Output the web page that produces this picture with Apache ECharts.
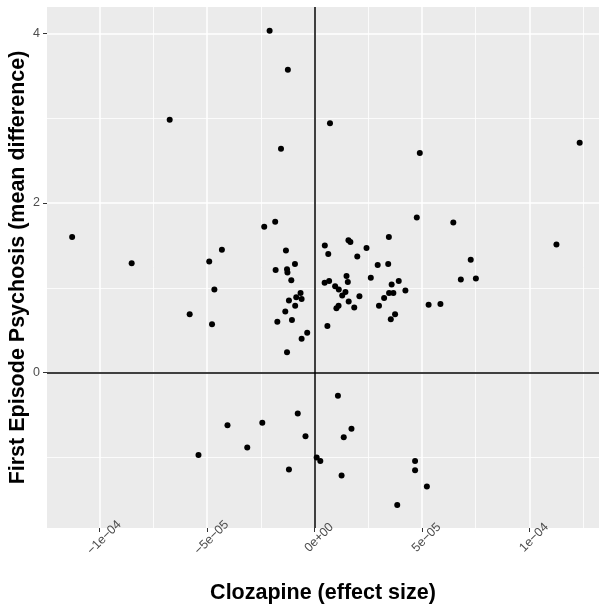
<!DOCTYPE html>
<html>
<head>
<meta charset="utf-8">
<script src="https://cdn.jsdelivr.net/npm/echarts@6/dist/echarts.min.js"></script>
<style>
  html, body { margin: 0; padding: 0; background: #fff; }
  #scatter-chart { width: 599px; height: 604px; }
</style>
</head>
<body>
<div id="scatter-chart"></div>
<script>
// clozapine effect size (x) and first episode psychosis mean difference (y), one entry per point
const clozapine = [
  -11.28e-5, -8.51e-5, -6.74e-5, -2.09e-5, -1.24e-5, -1.56e-5, -2.34e-5, -1.83e-5, -4.31e-5, -4.90e-5,
  -1.33e-5, -1.81e-5, -1.28e-5, -1.26e-5, -0.91e-5, -1.08e-5, -4.66e-5, -0.65e-5, -0.85e-5, -0.60e-5,
  -1.19e-5, -0.90e-5, -1.36e-5, -1.73e-5, -1.05e-5, -0.34e-5, -0.60e-5, -1.28e-5, -5.81e-5, -4.77e-5,
  0.72e-5, 4.90e-5, 12.34e-5, 4.76e-5, 6.46e-5, 11.26e-5, 3.46e-5, 0.48e-5, 0.64e-5, 1.58e-5,
  1.67e-5, 2.42e-5, 1.99e-5, 2.94e-5, 3.43e-5, 7.27e-5, 6.81e-5, 7.51e-5, 2.62e-5, 1.49e-5,
  1.55e-5, 0.47e-5, 0.68e-5, 0.96e-5, 1.13e-5, 1.44e-5, 1.29e-5, 3.59e-5, 3.92e-5, 4.23e-5,
  3.47e-5, 3.67e-5, 2.09e-5, 3.24e-5, 1.59e-5, 1.85e-5, 1.02e-5, 1.12e-5, 3.00e-5, 3.55e-5,
  3.75e-5, 5.31e-5, 5.86e-5, 0.60e-5,
  -4.05e-5, -2.43e-5, -3.13e-5, -5.40e-5, -1.19e-5, -0.78e-5, 1.09e-5, 1.72e-5, 1.36e-5, -0.42e-5,
  0.10e-5, 0.27e-5, 1.26e-5, 4.68e-5, 4.68e-5, 5.23e-5, 3.85e-5
];
const psychosis = [
  1.60, 1.29, 2.98, 4.03, 3.57, 2.64, 1.72, 1.78, 1.45, 1.31,
  1.44, 1.21, 1.22, 1.18, 1.28, 1.09, 0.98, 0.94, 0.89, 0.87,
  0.85, 0.79, 0.72, 0.60, 0.62, 0.47, 0.40, 0.24, 0.69, 0.57,
  2.94, 2.59, 2.71, 1.83, 1.77, 1.51, 1.60, 1.50, 1.40, 1.56,
  1.54, 1.47, 1.37, 1.27, 1.28, 1.33, 1.10, 1.11, 1.12, 1.14,
  1.07, 1.06, 1.08, 1.02, 0.98, 0.95, 0.91, 1.04, 1.08, 0.97,
  0.94, 0.94, 0.90, 0.88, 0.84, 0.77, 0.76, 0.79, 0.79, 0.63,
  0.69, 0.80, 0.81, 0.55,
  -0.62, -0.59, -0.88, -0.97, -1.14, -0.48, -0.27, -0.66, -0.76, -0.75,
  -1.00, -1.04, -1.21, -1.04, -1.15, -1.34, -1.56
];

const xTicks = [-1e-4, -5e-5, 0, 5e-5, 1e-4];
const xTickLabels = ['\u22121e\u221204', '\u22125e\u221205', '0e+00', '5e\u221205', '1e\u221204'];
const xMinorTicks = [-7.5e-5, -2.5e-5, 2.5e-5, 7.5e-5, 1.25e-4];
const yTicks = [0, 2, 4];
const yTickLabels = ['0', '2', '4'];
const yMinorTicks = [-1, 1, 3];

const xRange = [-1.245e-4, 1.324e-4];
const yRange = [-1.83, 4.31];

const font = 'Liberation Sans, Arial, sans-serif';

const labelFor = (ticks, labels) => (v) => {
  const i = ticks.findIndex(t => Math.abs(t - v) < 1e-9);
  return i >= 0 ? labels[i] : '';
};

const chart = echarts.init(document.getElementById('scatter-chart'));

const option = {
  animation: false,
  backgroundColor: '#fff',
  grid: {
    left: 47, right: 0, top: 7, bottom: 76,
    outerBoundsMode: 'none',
    containLabel: false,
    show: true,
    backgroundColor: '#EBEBEB',
    borderWidth: 0
  },
  xAxis: [
    {
      type: 'value',
      min: xRange[0], max: xRange[1],
      name: 'Clozapine (effect size)',
      nameLocation: 'middle',
      nameGap: 54,
      nameTextStyle: { fontFamily: font, fontWeight: 'bold', fontSize: 21.5, color: '#000' },
      axisLine: { show: false, onZero: false },
      axisTick: { show: true, length: 4, customValues: xTicks, lineStyle: { color: '#333' } },
      axisLabel: {
        customValues: xTicks,
        rotate: 45,
        align: 'center',
        verticalAlign: 'top',
        margin: 5,
        fontFamily: font, fontSize: 12.5, color: '#4D4D4D',
        formatter: labelFor(xTicks, xTickLabels)
      },
      splitLine: { show: true, lineStyle: { color: '#fff', width: 1.5 } }
    },
    {
      // minor grid lines only
      type: 'value',
      min: xRange[0], max: xRange[1],
      position: 'bottom',
      axisLine: { show: false, onZero: false },
      axisTick: { show: false, customValues: xMinorTicks },
      axisLabel: { show: false, customValues: xMinorTicks },
      splitLine: { show: true, lineStyle: { color: '#fff', width: 0.8 } }
    }
  ],
  yAxis: [
    {
      type: 'value',
      min: yRange[0], max: yRange[1],
      name: 'First Episode Psychosis (mean difference)',
      nameLocation: 'middle',
      nameGap: 18,
      nameMoveOverlap: false,
      nameTextStyle: { fontFamily: font, fontWeight: 'bold', fontSize: 21.5, color: '#000' },
      axisLine: { show: false, onZero: false },
      axisTick: { show: true, length: 4, customValues: yTicks, lineStyle: { color: '#333' } },
      axisLabel: {
        customValues: yTicks,
        margin: 7,
        fontFamily: font, fontSize: 12.5, color: '#4D4D4D',
        formatter: labelFor(yTicks, yTickLabels)
      },
      splitLine: { show: true, lineStyle: { color: '#fff', width: 1.5 } }
    },
    {
      type: 'value',
      min: yRange[0], max: yRange[1],
      position: 'left',
      axisLine: { show: false, onZero: false },
      axisTick: { show: false, customValues: yMinorTicks },
      axisLabel: { show: false, customValues: yMinorTicks },
      splitLine: { show: true, lineStyle: { color: '#fff', width: 0.8 } }
    }
  ],
  series: [
    {
      type: 'scatter',
      xAxisIndex: 0,
      yAxisIndex: 0,
      symbolSize: 6,
      itemStyle: { color: '#000', opacity: 1 },
      data: clozapine.map((x, i) => [x, psychosis[i]]),
      markLine: {
        silent: true,
        symbol: 'none',
        label: { show: false },
        lineStyle: { color: '#000', width: 1.5, type: 'solid' },
        data: [{ xAxis: 0 }, { yAxis: 0 }]
      },
      z: 3
    }
  ]
};

chart.setOption(option);
</script>
</body>
</html>
